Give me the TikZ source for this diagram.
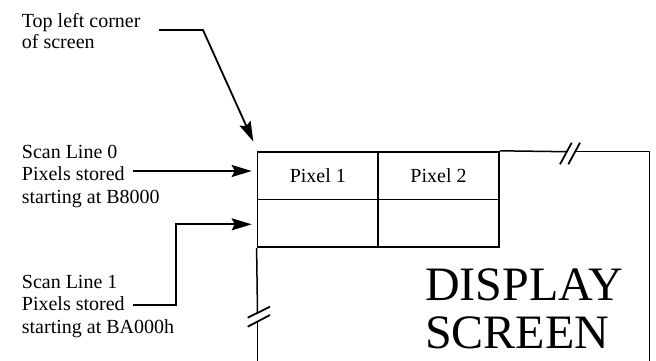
\documentclass[tikz,border=0pt]{standalone}
\usepackage{fontspec}
\setmainfont{Liberation Serif}
\usetikzlibrary{arrows.meta,calc}
\begin{document}
\begin{tikzpicture}[x=1pt,y=-1pt,
  lbl/.style={font=\fontsize{20}{22.5}\selectfont, align=left, inner sep=0pt, anchor=base west},
  cell/.style={draw, line width=1.8pt, minimum width=120.7pt, minimum height=47.8pt, inner sep=0pt, font=\fontsize{20}{22}\selectfont},
  conn/.style={line width=1.8pt, -{Stealth[length=20pt,width=12pt,inset=3pt]}},
  border/.style={line width=1.5pt},
  brk/.style={line width=1.8pt}]
\useasboundingbox (0,0) rectangle (656,360);
% pixel grid
\node[cell] (c1) at (317.85,175.6) {Pixel 1};
\node[cell] (c2) at (438.55,175.6) {Pixel 2};
\node[cell] (c3) at (317.85,223.4) {};
\node[cell] (c4) at (438.55,223.4) {};
% screen border
\coordinate (tg1) at (566.8,151.7);
\coordinate (tg2) at (575.1,151.7);
\coordinate (tr) at (649.3,151.7);
\coordinate (br) at (649.3,362);
\coordinate (lg1) at (257.5,312.8);
\coordinate (lg2) at (257.5,321.5);
\coordinate (bl) at (257.5,362);
\draw[border] (c2.north east) -- (tg1);
\draw[border] (tg2) -- (tr) -- (br);
\draw[border] (c3.south west) -- (lg1);
\draw[border] (lg2) -- (bl);
% break marks
\draw[brk] (560,164.3) -- (571.7,142.7);
\draw[brk] (568.3,164.3) -- (580,142.7);
\draw[brk] (247.7,317.7) -- (270,306.7);
\draw[brk] (247.7,326.7) -- (270,315);
% texts
\node[font=\fontsize{48}{48}\selectfont, align=left, anchor=base west, inner sep=0pt] (ds) at (425,348) {DISPLAY\\SCREEN};
\node[lbl, font=\fontsize{20}{21}\selectfont] (tl) at (21.7,48) {Top left corner\\of screen};
\node[lbl] (s0) at (21.7,203) {Scan Line 0\\Pixels stored\\starting at B8000};
\node[lbl] (s1) at (21.7,333) {Scan Line 1\\Pixels stored\\starting at BA000h};
% connectors
\coordinate (tlS) at (159,30);
\coordinate (tlB) at (203,30);
\coordinate (tlT) at (253.3,141.5);
\draw[conn] (tlS) -- (tlB) -- (tlT);
\coordinate (s0S) at (133,171);
\coordinate (s0T) at (251.7,171);
\draw[conn] (s0S) -- (s0T);
\coordinate (s1S) at (133,305);
\coordinate (s1B) at (176,224.3);
\coordinate (s1T) at (251.7,224.3);
\draw[conn] (s1S) -| (s1B) -- (s1T);
\end{tikzpicture}
\end{document}
